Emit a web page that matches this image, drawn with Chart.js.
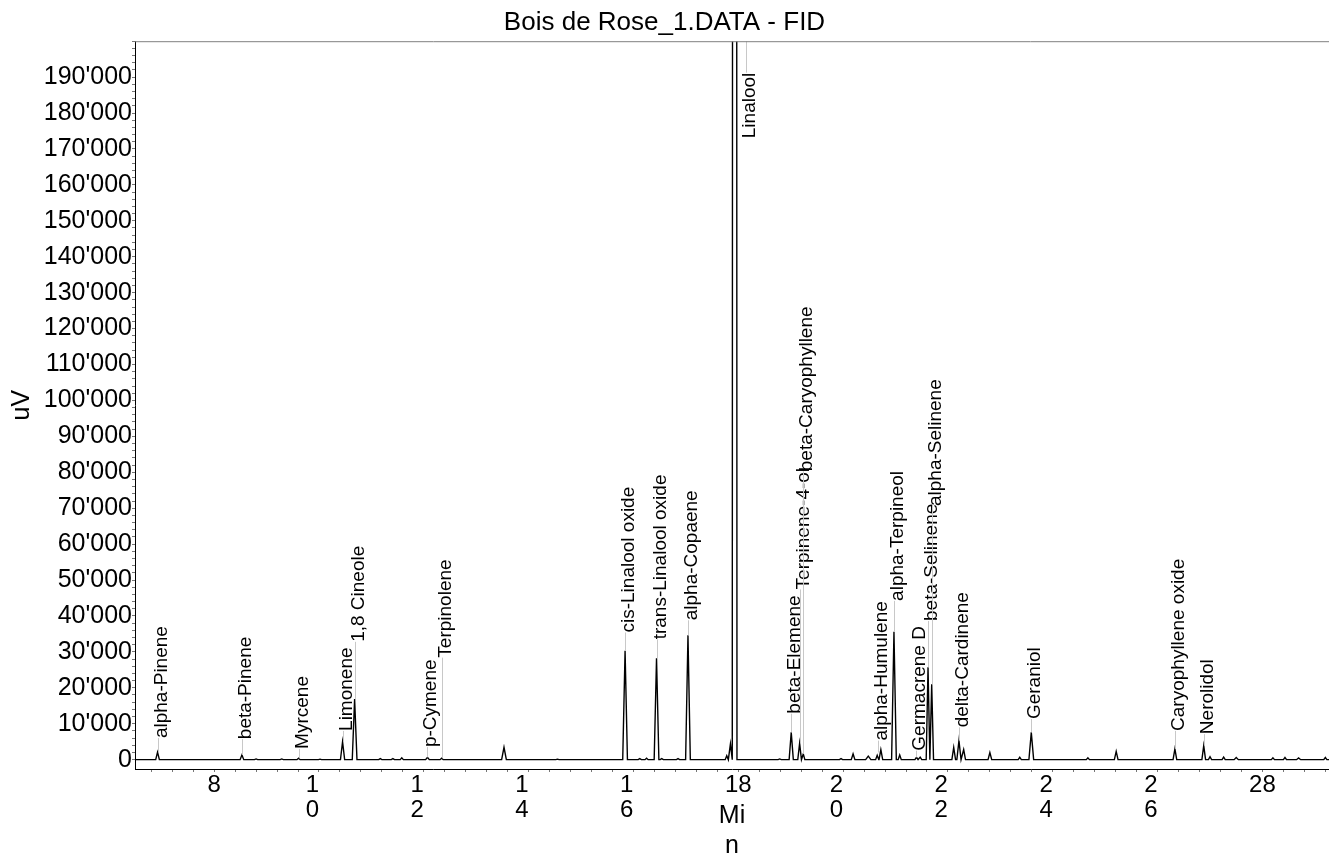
<!DOCTYPE html>
<html>
<head>
<meta charset="utf-8">
<title>Bois de Rose_1.DATA - FID</title>
<script src="https://cdn.jsdelivr.net/npm/chart.js@4.4.1/dist/chart.umd.min.js"></script>
<style>
  html, body { margin: 0; padding: 0; background: #fff; }
  #wrap { width: 1329px; height: 857px; }
</style>
</head>
<body>
<div id="wrap"><canvas id="chart"></canvas></div>
<script>
// peaks: retention time (min), height (uV), half width at base (min)
const peakTimes = [
    6.92, 8.53, 8.80, 9.29, 9.61, 10.02, 10.45, 10.68, 11.17, 11.41,
    11.58, 12.07, 12.34, 13.53, 14.55, 15.84, 16.12, 16.25, 16.44, 16.54,
    16.85, 17.04, 17.78, 17.85, 17.93, 18.79, 19.01, 19.17, 19.24, 19.96,
    20.19, 20.48, 20.65, 20.72, 20.97, 21.08, 21.40, 21.47, 21.62, 21.69,
    22.11, 22.21, 22.30, 22.80, 23.37, 23.59, 24.67, 25.21, 26.33, 26.88,
    27.00, 27.26, 27.50, 28.20, 28.43, 28.69, 29.20
];
const peakHeights = [
    2100, 1300, 200, 200, 400, 150, 5000, 16900, 300, 300,
    500, 650, 400, 3450, 150, 30300, 300, 400, 28200, 300,
    300, 34600, 1100, 4400, 2000000, 200, 7600, 4550, 1600, 300,
    1600, 1000, 1200, 2800, 35600, 1300, 650, 700, 25700, 21000,
    3400, 5300, 2800, 2000, 650, 7600, 500, 2300, 3000, 3900,
    800, 700, 600, 500, 600, 500, 600
];
const peakWidths = [
    0.035, 0.035, 0.03, 0.03, 0.03, 0.03, 0.04, 0.045, 0.03, 0.03,
    0.03, 0.035, 0.03, 0.045, 0.03, 0.045, 0.03, 0.03, 0.045, 0.03,
    0.03, 0.045, 0.03, 0.035, 0.045, 0.03, 0.04, 0.035, 0.03, 0.03,
    0.035, 0.05, 0.03, 0.035, 0.045, 0.03, 0.03, 0.03, 0.035, 0.035,
    0.035, 0.04, 0.035, 0.035, 0.03, 0.045, 0.03, 0.035, 0.035, 0.035,
    0.03, 0.03, 0.04, 0.03, 0.03, 0.04, 0.03
];

// named peaks: where the leader starts (apex) and where the name starts
const labelNames = [
    "alpha-Pinene", "beta-Pinene", "Myrcene", "Limonene", "1,8 Cineole",
    "p-Cymene", "Terpinolene", "cis-Linalool oxide", "trans-Linalool oxide", "alpha-Copaene",
    "Linalool", "beta-Elemene", "Terpinene-4-ol", "beta-Caryophyllene", "alpha-Humulene",
    "alpha-Terpineol", "Germacrene D", "beta-Selinene", "alpha-Selinene", "delta-Cardinene",
    "Geraniol", "Caryophyllene oxide", "Nerolidol"
];
const labelTimes = [
    6.92, 8.53, 9.61, 10.45, 10.68,
    12.07, 12.34, 15.84, 16.44, 17.04,
    18.14, 19.01, 19.17, 19.24, 20.67,
    20.97, 21.40, 21.62, 21.69, 22.21,
    23.59, 26.33, 26.88
];
const labelHeights = [
    2100, 1300, 400, 5000, 16900,
    650, 400, 30300, 28200, 34600,
    2000000, 7600, 4550, 1600, 2000,
    35600, 650, 25700, 21000, 5300,
    7600, 3000, 3900
];
const labelLevels = [
    6000, 5700, 3000, 8000, 32800,
    3500, 28400, 35400, 33500, 38800,
    173000, 12800, 47400, 80300, 5300,
    44200, 2500, 38600, 70600, 9000,
    11300, 8000, 7100
];

const xTickValues = [8, 10, 12, 14, 16, 18, 20, 22, 24, 26, 28];
const xTickLabels = [
    "8", ["1  ", "0  "], ["1  ", "2  "], ["1  ", "4  "], ["1  ", "6  "], "18",
    ["2  ", "0  "], ["2  ", "2  "], ["2  ", "4  "], ["2  ", "6  "], "28"
];
const yTickValues = [
    0, 10000, 20000, 30000, 40000, 50000, 60000, 70000, 80000, 90000,
    100000, 110000, 120000, 130000, 140000, 150000, 160000, 170000, 180000, 190000
];
const yTickLabels = [
    "0", "10'000", "20'000", "30'000", "40'000", "50'000", "60'000", "70'000", "80'000", "90'000",
    "100'000", "110'000", "120'000", "130'000", "140'000", "150'000", "160'000", "170'000", "180'000", "190'000"
];

const timeMin = 6.49;
const timeMax = 29.27;
const signalMin = -2600;
const signalMax = 200000;
const yMinorStep = 2000;

// baseline - apex - baseline for each peak
const trace = [{ x: timeMin, y: 0 }];
peakTimes.forEach((t, i) => {
    trace.push({ x: t - peakWidths[i], y: 0 });
    trace.push({ x: t, y: peakHeights[i] });
    trace.push({ x: t + peakWidths[i], y: 0 });
});
trace.push({ x: timeMax, y: 0 });

const FONT = "'Liberation Sans', Arial, Helvetica, sans-serif";
Chart.defaults.font.family = FONT;
Chart.defaults.color = "#000";

const peakLabels = {
    id: "peakLabels",
    afterDatasetsDraw(chart) {
        const { ctx, chartArea, scales: { x, y } } = chart;
        ctx.save();
        ctx.font = "19px " + FONT;
        ctx.fillStyle = "#000";
        ctx.strokeStyle = "#c8c8c8";
        ctx.lineWidth = 1;
        labelNames.forEach((name, i) => {
            const px = Math.round(x.getPixelForValue(labelTimes[i])) + 0.5;
            const textY = y.getPixelForValue(labelLevels[i]);
            const textW = ctx.measureText(name).width;
            let from, to;
            if (labelHeights[i] > y.max) {
                // peak runs off the top: leader goes from the name up to the frame
                from = chartArea.top;
                to = textY - textW;
            } else {
                from = y.getPixelForValue(labelHeights[i]);
                to = textY;
            }
            ctx.beginPath();
            ctx.moveTo(px, from);
            ctx.lineTo(px, to);
            ctx.stroke();

            ctx.save();
            ctx.translate(px + 8, textY);
            ctx.rotate(-Math.PI / 2);
            ctx.textAlign = "left";
            ctx.textBaseline = "alphabetic";
            ctx.fillText(name, 0, 0);
            ctx.restore();
        });
        ctx.restore();
    }
};

const frameTop = {
    id: "frameTop",
    afterDraw(chart) {
        const { ctx, chartArea } = chart;
        ctx.save();
        ctx.strokeStyle = "#808080";
        ctx.lineWidth = 1;
        ctx.beginPath();
        ctx.moveTo(chartArea.left, chartArea.top + 0.5);
        ctx.lineTo(chartArea.right, chartArea.top + 0.5);
        ctx.stroke();
        ctx.restore();
    }
};

new Chart(document.getElementById("chart"), {
    type: "line",
    plugins: [peakLabels, frameTop],
    data: {
        datasets: [
            {
                data: trace,
                borderColor: "#000",
                borderWidth: 1.4,
                pointRadius: 0,
                tension: 0,
                fill: false,
            },
        ],
    },
    options: {
        responsive: true,
        maintainAspectRatio: false,
        animation: false,
        layout: { padding: 0 },
        plugins: {
            legend: { display: false },
            tooltip: { enabled: false },
            title: {
                display: true,
                text: "Bois de Rose_1.DATA - FID",
                color: "#000",
                font: { size: 26, weight: "normal", lineHeight: 1.2 },
                padding: { top: 7, bottom: 3 },
            },
        },
        scales: {
            x: {
                type: "linear",
                min: timeMin,
                max: timeMax,
                border: { color: "#000", width: 1 },
                grid: { drawOnChartArea: false, tickLength: 3, color: "#777" },
                ticks: {
                    stepSize: 0.4,
                    autoSkip: false,
                    maxRotation: 0,
                    minRotation: 0,
                    padding: 1,
                    includeBounds: false,
                    color: "#000",
                    font: { size: 24, lineHeight: 1.05 },
                    callback: (v) => {
                        const i = xTickValues.findIndex((t) => Math.abs(t - v) < 1e-6);
                        return i < 0 ? "" : xTickLabels[i];
                    },
                },
                title: {
                    display: true,
                    text: ["Mi", "n"],
                    color: "#000",
                    font: { size: 25, lineHeight: 1.2 },
                    padding: { top: -23.4, bottom: -4 },
                },
            },
            y: {
                type: "linear",
                min: signalMin,
                max: signalMax,
                // small marks every 2'000 uV, names only on the 10'000 ones
                afterBuildTicks: (s) => {
                    const ticks = [];
                    for (let v = 0; v <= signalMax; v += yMinorStep) ticks.push({ value: v });
                    s.ticks = ticks;
                },
                afterFit: (s) => {
                    s.width = 135;
                },
                border: { color: "#000", width: 1 },
                grid: { drawOnChartArea: false, tickLength: 3, color: "#777" },
                ticks: {
                    autoSkip: false,
                    padding: 0,
                    color: "#000",
                    font: { size: 25, lineHeight: 1 },
                    callback: (v) => {
                        const i = yTickValues.indexOf(v);
                        return i < 0 ? "" : yTickLabels[i];
                    },
                },
                title: {
                    display: true,
                    text: "uV",
                    color: "#000",
                    font: { size: 25, lineHeight: 1 },
                    padding: { top: 9.5, bottom: 0 },
                },
            },
        },
    },
});
</script>
</body>
</html>
